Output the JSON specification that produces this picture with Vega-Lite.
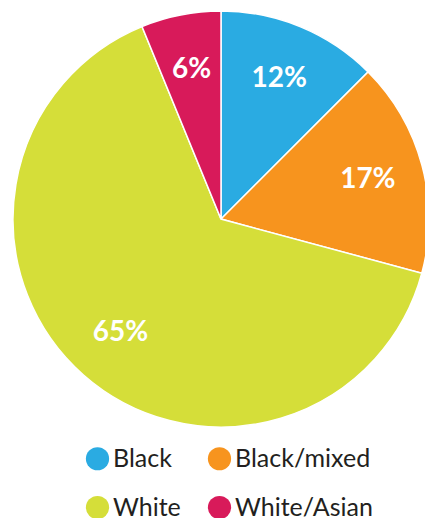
{
  "$schema": "https://vega.github.io/schema/vega-lite/v6.json",
  "width": 442,
  "height": 438,
  "padding": 0,
  "autosize": {"type": "pad"},
  "background": "white",
  "config": {"view": {"stroke": null}},
  "data": {
    "values": [
      {"group": "Black", "share": 12.5, "label": "12%", "idx": 1},
      {"group": "Black/mixed", "share": 16.7, "label": "17%", "idx": 2},
      {"group": "White", "share": 64.6, "label": "65%", "idx": 3},
      {"group": "White/Asian", "share": 6.2, "label": "6%", "idx": 4}
    ]
  },
  "encoding": {
    "theta": {"field": "share", "type": "quantitative", "stack": true},
    "order": {"field": "idx", "type": "quantitative"},
    "color": {
      "field": "group",
      "type": "nominal",
      "sort": ["Black", "Black/mixed", "White", "White/Asian"],
      "scale": {
        "domain": ["Black", "Black/mixed", "White", "White/Asian"],
        "range": ["#2aabe2", "#f7941e", "#d5de39", "#d81a5a"]
      },
      "legend": {
        "orient": "none",
        "direction": "horizontal",
        "legendX": 85,
        "legendY": 446,
        "columns": 2,
        "title": null,
        "symbolType": "circle",
        "symbolSize": 540,
        "symbolStrokeWidth": 0,
        "symbolOpacity": 1,
        "labelFont": "Lato",
        "labelFontSize": 25,
        "labelColor": "#231f20",
        "labelOffset": 3,
        "labelLimit": 300,
        "columnPadding": 26,
        "rowPadding": 23
      }
    }
  },
  "layer": [
    {
      "mark": {"type": "arc", "outerRadius": 208, "stroke": "white", "strokeWidth": 1.5}
    },
    {
      "mark": {"type": "text", "radius": 152, "font": "Lato", "fontWeight": "bold", "fontSize": 28, "fill": "white", "align": "center", "baseline": "middle"},
      "encoding": {
        "text": {"field": "label", "type": "nominal"},
        "color": {"value": "white"}
      }
    }
  ]
}
